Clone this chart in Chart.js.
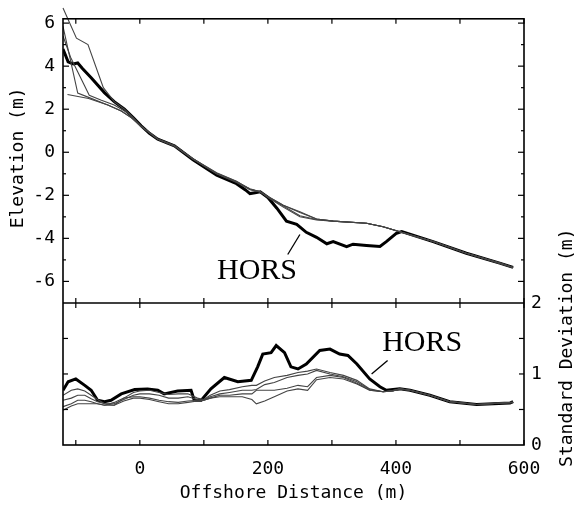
<!DOCTYPE html>
<html><head><meta charset="utf-8">
<script src="https://cdn.jsdelivr.net/npm/chart.js@4.4.0/dist/chart.umd.min.js"></script>
<style>html,body{margin:0;padding:0;background:#fff;}</style>
</head><body>
<canvas id="c" width="578" height="508"></canvas>
<script>
// ---------- DATA ----------
const xTickValues = [-100, 0, 100, 200, 300, 400, 500, 600];
const xTickLabels = [0, 200, 400, 600];
const elevTickLabels = [-6, -4, -2, 0, 2, 4, 6];
const sdTickLabels = [0, 1, 2];

// Upper panel: elevation profiles (m)
const elevHorsX = [-120,-112,-104,-97,-90,-76,-55,-40,-24,-10,2,15,28,54,83,120,151,165,172,180,188,200,214,229,245,260,276,292,302,323,333,354,375,385,401,409,458,510,562,583];
const elevHorsY = [4.8,4.2,4.1,4.15,3.9,3.46,2.76,2.35,2.0,1.6,1.23,0.88,0.61,0.3,-0.35,-1.07,-1.46,-1.75,-1.92,-1.88,-1.84,-2.1,-2.6,-3.2,-3.35,-3.72,-3.95,-4.25,-4.15,-4.38,-4.27,-4.33,-4.38,-4.15,-3.76,-3.69,-4.15,-4.69,-5.15,-5.35];

const elevP1X = [-120,-99,-81,-57,-40,-24,-10,2,28,54,83,120,151,172,188,200,224,250,276,302,354,380,406,458,510,562,583];
const elevP1Y = [6.7,5.3,5.0,3.0,2.35,2.0,1.6,1.2,0.62,0.32,-0.32,-1.0,-1.38,-1.7,-1.84,-2.05,-2.46,-2.76,-3.1,-3.2,-3.3,-3.46,-3.69,-4.15,-4.69,-5.15,-5.35];

const elevP2X = [-120,-97,-80,-50,-29,-13,2,28,54,83,120,151,172,188,200,224,250,276,302,354,380,406,458,510,562,583];
const elevP2Y = [5.85,2.75,2.55,2.2,1.92,1.6,1.2,0.6,0.28,-0.3,-0.95,-1.35,-1.72,-1.84,-2.1,-2.55,-3.0,-3.15,-3.2,-3.3,-3.46,-3.69,-4.15,-4.69,-5.15,-5.35];

const elevP3X = [-120,-108,-79,-60,-40,-20,2,28,54,83,120,151,172,188,200,224,250,276,302,354,380,406,458,510,562,583];
const elevP3Y = [5.4,4.4,2.65,2.42,2.2,1.85,1.22,0.62,0.3,-0.33,-1.0,-1.4,-1.74,-1.84,-2.08,-2.5,-2.95,-3.12,-3.2,-3.3,-3.46,-3.69,-4.15,-4.69,-5.15,-5.35];

const elevP4X = [-113,-80,-50,-29,-13,2,28,54,83,120,151,172,188,200,224,250,276,302,354,380,406,458,510,562,583];
const elevP4Y = [2.68,2.5,2.2,1.92,1.6,1.2,0.6,0.3,-0.3,-0.97,-1.36,-1.72,-1.84,-2.06,-2.46,-2.8,-3.1,-3.2,-3.3,-3.46,-3.69,-4.15,-4.69,-5.15,-5.35];

// Lower panel: standard deviation (m)
const sdHorsX = [-120,-112,-100,-86,-76,-66,-55,-45,-29,-8,12,28,38,59,80,85,96,111,132,153,174,184,192,205,213,226,236,247,260,281,297,312,325,339,359,375,385,406,422,453,484,526,578,583];
const sdHorsY = [0.77,0.89,0.93,0.84,0.77,0.63,0.61,0.63,0.72,0.78,0.79,0.77,0.72,0.76,0.77,0.63,0.63,0.79,0.95,0.89,0.91,1.10,1.28,1.30,1.40,1.30,1.10,1.07,1.14,1.33,1.35,1.28,1.26,1.14,0.93,0.82,0.77,0.79,0.77,0.70,0.61,0.57,0.59,0.61];

const sdThinX = [-120,-107,-97,-86,-76,-66,-55,-40,-25,-10,0,15,30,45,60,75,90,100,110,125,140,160,175,182,195,210,230,247,262,276,297,318,339,359,380,395,406,422,453,484,526,583];
const sdS1 = [0.70,0.77,0.79,0.76,0.70,0.64,0.58,0.56,0.66,0.74,0.76,0.77,0.74,0.71,0.72,0.72,0.66,0.64,0.70,0.76,0.78,0.82,0.84,0.84,0.90,0.95,0.98,1.02,1.04,1.07,1.02,0.98,0.91,0.79,0.75,0.77,0.79,0.77,0.70,0.61,0.57,0.60];
const sdS2 = [0.63,0.66,0.70,0.70,0.65,0.61,0.58,0.58,0.64,0.70,0.72,0.72,0.70,0.66,0.66,0.68,0.64,0.63,0.68,0.72,0.74,0.77,0.77,0.78,0.85,0.88,0.95,0.98,1.00,1.05,1.00,0.96,0.89,0.78,0.75,0.76,0.79,0.77,0.70,0.61,0.57,0.60];
const sdS3 = [0.54,0.58,0.63,0.63,0.61,0.58,0.56,0.60,0.66,0.68,0.68,0.66,0.63,0.61,0.60,0.62,0.63,0.63,0.66,0.70,0.70,0.72,0.72,0.77,0.77,0.77,0.80,0.84,0.82,0.95,0.98,0.95,0.87,0.77,0.75,0.76,0.79,0.77,0.70,0.61,0.57,0.60];
const sdS4 = [0.49,0.55,0.58,0.58,0.58,0.58,0.56,0.56,0.62,0.66,0.66,0.64,0.61,0.58,0.58,0.60,0.62,0.63,0.66,0.68,0.68,0.68,0.64,0.58,0.62,0.68,0.76,0.79,0.77,0.92,0.95,0.93,0.86,0.77,0.75,0.76,0.79,0.77,0.70,0.61,0.57,0.60];

// Annotations (data coordinates)
const horsTopLabel = {x: 183, y: -5.53};
const horsTopLeader = [{x: 231, y: -4.75}, {x: 250, y: -3.82}];
const horsBotLabel = {x: 441, y: 1.44};
const horsBotLeader = [{x: 362, y: 1.0}, {x: 387, y: 1.19}];
const panelSplit = -7; // elevation value at the panel divider

// ---------- CHART ----------
const MONO = "'DejaVu Sans Mono', monospace";
const pts = (xs, ys) => xs.map((x, i) => ({x, y: ys[i]}));
const thin = (label, data, axis, extra) => Object.assign({label, data, yAxisID: axis, borderColor: '#444', borderWidth: 1.1, pointRadius: 0, tension: 0, fill: false}, extra || {});

const decor = {
  id: 'decor',
  afterDatasetsDraw(chart) {
    const {ctx, chartArea: a, scales: {x, y, ysd}} = chart;
    const line = (x1, y1, x2, y2) => { ctx.beginPath(); ctx.moveTo(x1, y1); ctx.lineTo(x2, y2); ctx.stroke(); };
    ctx.save();
    ctx.strokeStyle = '#000';
    ctx.lineWidth = 1.6;
    ctx.strokeRect(a.left, a.top, a.right - a.left, a.bottom - a.top);
    const yDiv = y.getPixelForValue(panelSplit);
    line(a.left, yDiv, a.right, yDiv);
    ctx.lineWidth = 1.2;
    for (const v of xTickValues) {
      const px = x.getPixelForValue(v);
      line(px, a.top, px, a.top + 5);
      line(px, yDiv - 5, px, yDiv + 5);
      line(px, a.bottom, px, a.bottom - 5);
    }
    for (let v = -6; v <= 6; v++) {
      const py = y.getPixelForValue(v);
      const L = v % 2 === 0 ? 6 : 3;
      line(a.left, py, a.left + L, py);
      line(a.right, py, a.right - L, py);
    }
    for (const v of [0.5, 1, 1.5]) {
      const py = ysd.getPixelForValue(v);
      line(a.left, py, a.left + 5, py);
      line(a.right, py, a.right - 5, py);
    }
    // HORS annotations
    ctx.lineWidth = 1.3;
    let p = horsTopLeader.map(d => [x.getPixelForValue(d.x), y.getPixelForValue(d.y)]);
    line(p[0][0], p[0][1], p[1][0], p[1][1]);
    p = horsBotLeader.map(d => [x.getPixelForValue(d.x), ysd.getPixelForValue(d.y)]);
    line(p[0][0], p[0][1], p[1][0], p[1][1]);
    ctx.fillStyle = '#000';
    ctx.font = "30px 'Liberation Serif', serif";
    ctx.textAlign = 'center';
    ctx.textBaseline = 'middle';
    ctx.fillText('HORS', x.getPixelForValue(horsTopLabel.x), y.getPixelForValue(horsTopLabel.y));
    ctx.fillText('HORS', x.getPixelForValue(horsBotLabel.x), ysd.getPixelForValue(horsBotLabel.y));
    // axis titles
    ctx.font = "18px " + MONO;
    ctx.save();
    ctx.translate(18, (a.top + yDiv) / 2 - 3);
    ctx.rotate(-Math.PI / 2);
    ctx.fillText('Elevation (m)', 0, 0);
    ctx.restore();
    ctx.save();
    ctx.translate(567, ysd.getPixelForValue(1.37));
    ctx.rotate(-Math.PI / 2);
    ctx.fillText('Standard Deviation (m)', 0, 0);
    ctx.restore();
    ctx.restore();
  }
};

new Chart(document.getElementById('c'), {
  type: 'line',
  data: {
    datasets: [
      thin('Profile 1', pts(elevP1X, elevP1Y), 'y', {clip: false}),
      thin('Profile 2', pts(elevP2X, elevP2Y), 'y'),
      thin('Profile 3', pts(elevP3X, elevP3Y), 'y'),
      thin('Profile 4', pts(elevP4X, elevP4Y), 'y'),
      {label: 'HORS', data: pts(elevHorsX, elevHorsY), yAxisID: 'y', borderColor: '#000', borderWidth: 3, pointRadius: 0, tension: 0, fill: false},
      thin('SD 1', pts(sdThinX, sdS1), 'ysd'),
      thin('SD 2', pts(sdThinX, sdS2), 'ysd'),
      thin('SD 3', pts(sdThinX, sdS3), 'ysd'),
      thin('SD 4', pts(sdThinX, sdS4), 'ysd'),
      {label: 'HORS SD', data: pts(sdHorsX, sdHorsY), yAxisID: 'ysd', borderColor: '#000', borderWidth: 3, pointRadius: 0, tension: 0, fill: false}
    ]
  },
  options: {
    responsive: false,
    animation: false,
    events: [],
    layout: {padding: {top: 16, left: 0, right: 0, bottom: 0}},
    plugins: {legend: {display: false}, tooltip: {enabled: false}},
    scales: {
      x: {
        type: 'linear', position: 'bottom', min: -120, max: 600,
        afterFit(s) { s.height = 63; },
        grid: {display: false, drawTicks: false}, border: {display: false},
        ticks: {stepSize: 100, includeBounds: false, autoSkip: false, maxRotation: 0, padding: 14, color: '#000',
          font: {family: MONO, size: 18},
          callback: v => xTickLabels.includes(v) ? String(v) : ''},
        title: {display: true, text: 'Offshore Distance (m)', color: '#000', font: {family: MONO, size: 18}, padding: {top: 0, bottom: 4}}
      },
      y: {
        type: 'linear', position: 'left', min: -13.6, max: 6.2,
        afterFit(s) { s.width = 63; },
        grid: {display: false, drawTicks: false}, border: {display: false},
        ticks: {stepSize: 1, includeBounds: false, autoSkip: false, padding: 8, color: '#000',
          font: {family: MONO, size: 18},
          callback: v => elevTickLabels.includes(v) ? String(v) : ''}
      },
      ysd: {
        type: 'linear', position: 'right', min: 0, max: 6,
        afterFit(s) { s.width = 54; },
        grid: {display: false, drawTicks: false}, border: {display: false},
        ticks: {stepSize: 0.5, includeBounds: false, autoSkip: false, padding: 7, color: '#000',
          font: {family: MONO, size: 18},
          callback: v => sdTickLabels.includes(v) ? String(v) : ''}
      }
    }
  },
  plugins: [decor]
});
</script>
</body></html>
